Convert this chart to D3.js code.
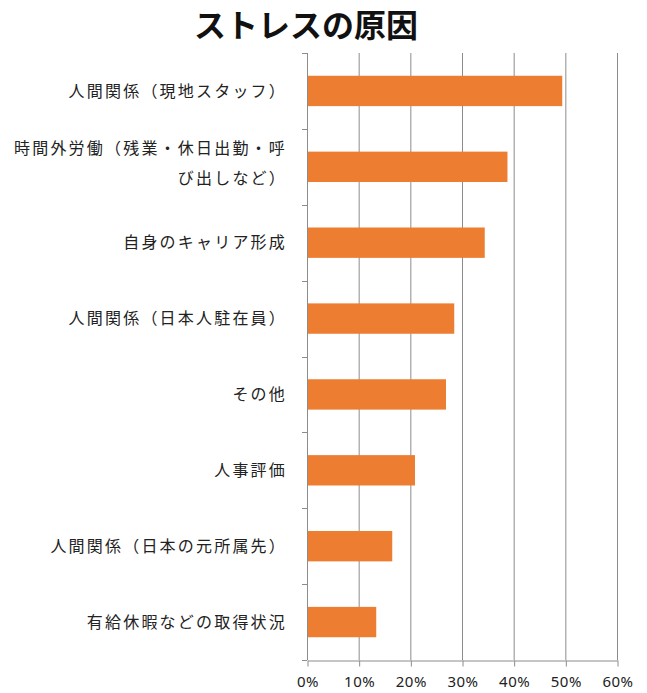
<!DOCTYPE html>
<html lang="ja">
<head>
<meta charset="utf-8">
<script src="https://cdn.jsdelivr.net/npm/d3@7"></script>
<style>
  html, body { margin: 0; padding: 0; background: #fff; }
  svg { display: block; }
</style>
</head>
<body>
<svg id="chart" width="647" height="693"></svg>
<script>
// Causes of stress (share of respondents, %)
const categories = [
  ["人間関係（現地スタッフ）"],
  ["時間外労働（残業・休日出勤・呼", "び出しなど）"],
  ["自身のキャリア形成"],
  ["人間関係（日本人駐在員）"],
  ["その他"],
  ["人事評価"],
  ["人間関係（日本の元所属先）"],
  ["有給休暇などの取得状況"]
];
const values = [49.4, 38.8, 34.4, 28.5, 26.9, 20.9, 16.5, 13.4];
const xTicks = [0, 10, 20, 30, 40, 50, 60];
const titleText = "ストレスの原因";

const svg = d3.select("#chart");
const margin = { top: 53, right: 30, bottom: 33, left: 307 };
const plotW = 617 - margin.left;
const plotH = 660 - margin.top;

const fontJP = "'Noto Sans CJK JP', 'Noto Sans', sans-serif";
const gridColor = "#8c8c8c";

const keys = categories.map((c, i) => i);
const x = d3.scaleLinear().domain([0, 60]).range([margin.left, margin.left + plotW]);
const y = d3.scaleBand().domain(keys).range([margin.top, margin.top + plotH])
  .paddingInner(0.6).paddingOuter(0.3);

// Title
svg.append("text")
  .attr("x", 306).attr("y", 37)
  .attr("text-anchor", "middle")
  .attr("font-family", fontJP)
  .attr("font-weight", 700)
  .attr("font-size", 32)
  .attr("fill", "#111")
  .text(titleText);

// Vertical gridlines
svg.append("g").selectAll("line")
  .data(xTicks.slice(1))
  .join("line")
  .attr("x1", d => x(d) + 0.5).attr("x2", d => x(d) + 0.5)
  .attr("y1", margin.top).attr("y2", margin.top + plotH)
  .attr("stroke", gridColor).attr("stroke-width", 1);

// Bars
svg.append("g").selectAll("rect")
  .data(values)
  .join("rect")
  .attr("x", x(0) + 1)
  .attr("y", (d, i) => y(i))
  .attr("width", d => x(d) - x(0) - 1)
  .attr("height", y.bandwidth())
  .attr("fill", "#ED7D31");

// Category axis (left), ticks at band boundaries
const bounds = keys.map(k => y(k) - y.step() * y.paddingInner() / 2);
bounds.push(margin.top + plotH);
const yAxisG = svg.append("g");
yAxisG.append("line")
  .attr("x1", margin.left + 0.5).attr("x2", margin.left + 0.5)
  .attr("y1", margin.top).attr("y2", margin.top + plotH)
  .attr("stroke", gridColor);
yAxisG.selectAll("line.tick")
  .data(bounds)
  .join("line")
  .attr("class", "tick")
  .attr("x1", margin.left - 5).attr("x2", margin.left)
  .attr("y1", d => Math.round(d) + 0.5).attr("y2", d => Math.round(d) + 0.5)
  .attr("stroke", gridColor);

// Category labels, right aligned, wrapped lines stacked around the band centre
const lineGap = 30;
const labels = svg.append("g")
  .attr("font-family", fontJP)
  .attr("font-size", 16)
  .attr("letter-spacing", "2.2px")
  .attr("fill", "#222")
  .attr("text-anchor", "end");
categories.forEach((lines, i) => {
  const cy = y(i) + y.bandwidth() / 2;
  const start = cy - (lines.length - 1) * lineGap / 2 - (lines.length > 1 ? 4 : 0);
  const t = labels.append("text")
    .attr("x", margin.left - 20);
  lines.forEach((ln, j) => {
    t.append("tspan")
      .attr("x", margin.left - 20)
      .attr("y", start + j * lineGap)
      .attr("dy", "0.36em")
      .text(ln);
  });
});

// Value axis (bottom)
const xAxis = d3.axisBottom(x)
  .tickValues(xTicks)
  .tickFormat(d => d + "%")
  .tickSizeInner(6)
  .tickSizeOuter(0)
  .tickPadding(10);
const xg = svg.append("g")
  .attr("transform", `translate(0.5,${margin.top + plotH + 0.5})`)
  .call(xAxis);
xg.select(".domain").attr("stroke", gridColor);
xg.selectAll(".tick line").attr("stroke", gridColor);
xg.selectAll(".tick text")
  .attr("font-family", "'Noto Sans', 'Noto Sans CJK JP', sans-serif")
  .attr("font-size", 15)
  .attr("letter-spacing", "0.5px")
  .attr("fill", "#222");
</script>
</body>
</html>
